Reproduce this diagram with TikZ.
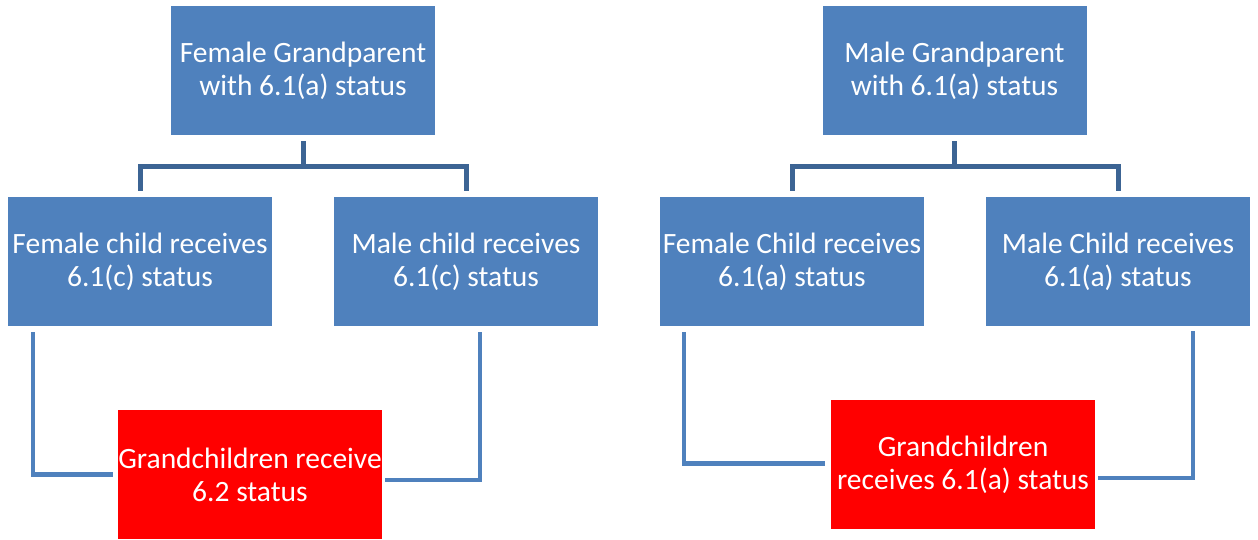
\documentclass[tikz,border=0pt]{standalone}
\usepackage{fontspec}
\setmainfont{Carlito}
\definecolor{boxblue}{HTML}{4F81BD}
\definecolor{linedark}{HTML}{3C6494}
\definecolor{boxred}{HTML}{FF0000}
\begin{document}
\begin{tikzpicture}[x=1pt,y=-1pt,
  bluebox/.style={fill=boxblue,draw=none,minimum width=264pt,minimum height=129pt,inner sep=0pt,align=center,text=white,font=\fontsize{29.5}{33}\selectfont},
  redbox/.style={bluebox,fill=boxred},
  topline/.style={draw=linedark,line width=5pt},
  botline/.style={draw=boxblue,line width=4.5pt}]
\useasboundingbox (0,0) rectangle (1258,539);
\fill[white] (0,0) rectangle (1258,539);
% left tree
\node[bluebox] (gpf) at (303,70.5) {Female Grandparent\\with 6.1(a) status};
\node[bluebox] (fc) at (140,261.5) {Female child receives\\6.1(c) status};
\node[bluebox] (mc) at (466,261.5) {Male child receives\\6.1(c) status};
\node[redbox] (gcl) at (250,474.5) {Grandchildren receive\\6.2 status};
% right tree
\node[bluebox] (gpm) at (954.5,70.5) {Male Grandparent\\with 6.1(a) status};
\node[bluebox] (fcr) at (792,261.5) {Female Child receives\\6.1(a) status};
\node[bluebox] (mcr) at (1118,261.5) {Male Child receives\\6.1(a) status};
\node[redbox] (gcr) at (963,464.5) {Grandchildren\\receives 6.1(a) status};
% top connectors
\coordinate (hl) at (0,166.5);
\draw[topline] ([yshift=-6pt]gpf.south) -- (gpf.south |- hl);
\draw[topline] ([yshift=6pt]fc.north) -- (fc.north |- hl) -- (mc.north |- hl) -- ([yshift=6pt]mc.north);
\draw[topline] ([yshift=-6pt]gpm.south) -- (gpm.south |- hl);
\draw[topline] ([yshift=6pt]fcr.north) -- (fcr.north |- hl) -- (mcr.north |- hl) -- ([yshift=6pt]mcr.north);
% bottom connectors
\coordinate (l1) at (33,332);
\coordinate (l2) at (480,332);
\coordinate (r1) at (684,332);
\coordinate (r2) at (1193,331);
\draw[botline] (l1) |- ([xshift=-5pt]gcl.west);
\draw[botline] (l2) |- ([xshift=3pt,yshift=-5.5pt]gcl.east);
\draw[botline] (r1) |- ([xshift=-6pt,yshift=1pt]gcr.west);
\draw[botline] (r2) |- ([xshift=3pt,yshift=-13.5pt]gcr.east);
\end{tikzpicture}
\end{document}
